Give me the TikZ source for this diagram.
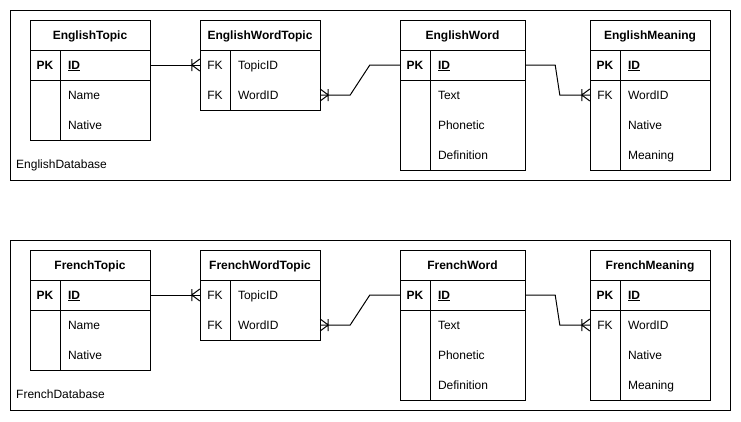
\documentclass[tikz,border=0pt]{standalone}
\usepackage{fontspec}
\setmainfont{Liberation Sans}
\usetikzlibrary{calc}
\tikzset{
  frame/.style={draw=black,line width=1pt},
  txt/.style={font=\fontsize{12}{14}\selectfont,text height=9pt,text depth=1pt},
  keycell/.style={txt,minimum width=30pt,minimum height=30pt,inner sep=0pt},
  fieldcell/.style={txt,minimum height=30pt,inner xsep=8pt,inner ysep=0pt,align=left},
  titlecell/.style={txt,minimum height=30pt,inner sep=0pt,font=\fontsize{12}{14}\selectfont\bfseries},
  conn/.style={draw=black,line width=1pt},
  dblabel/.style={txt,anchor=west,inner sep=0pt},
  onemany/.pic={\draw[line width=1pt] (-8,-6) -- (-8,6) (0,-6) -- (-8,0) -- (0,6);}
}
% \fld{name}{key}{field}{left}{y}{width}
\newcommand{\fld}[6]{%
  \node[keycell] (#1-K) at (#4+15,#5) {#2};
  \node[fieldcell,text width=#6-30-16,minimum width=#6-30] (#1) at (#4+30+#6/2-15,#5) {#3};
}
\begin{document}
\begin{tikzpicture}[x=1pt,y=-1pt]
\useasboundingbox (0,0) rectangle (741,421);
\foreach \L/\dy in {English/0,French/230}{
\begin{scope}[shift={(0,\dy)}]
  % container
  \node[frame,minimum width=720pt,minimum height=170pt,inner sep=0pt] (db-\L) at (370,95) {};
  \node[dblabel] (dbl-\L) at (16,164) {\L Database};
  % Topic table
  \node[frame,minimum width=120pt,minimum height=120pt,inner sep=0pt] (T-\L) at (90,80) {};
  \node[titlecell,minimum width=120pt] (T-\L-title) at (90,35) {\L Topic};
  \draw[frame] (30,50) -- (150,50) (30,80) -- (150,80) (60,50) -- (60,140);
  \fld{T-\L-id}{\textbf{PK}}{\textbf{\underline{ID}}}{30}{65}{120}
  \fld{T-\L-name}{}{Name}{30}{95}{120}
  \fld{T-\L-native}{}{Native}{30}{125}{120}
  % WordTopic table
  \node[frame,minimum width=120pt,minimum height=90pt,inner sep=0pt] (WT-\L) at (260,65) {};
  \node[titlecell,minimum width=120pt] (WT-\L-title) at (260,35) {\L WordTopic};
  \draw[frame] (200,50) -- (320,50) (230,50) -- (230,110);
  \fld{WT-\L-topic}{FK}{TopicID}{200}{65}{120}
  \fld{WT-\L-word}{FK}{WordID}{200}{95}{120}
  % Word table
  \node[frame,minimum width=125pt,minimum height=150pt,inner sep=0pt] (W-\L) at (462.5,95) {};
  \node[titlecell,minimum width=125pt] (W-\L-title) at (462.5,35) {\L Word};
  \draw[frame] (400,50) -- (525,50) (400,80) -- (525,80) (430,50) -- (430,170);
  \fld{W-\L-id}{\textbf{PK}}{\textbf{\underline{ID}}}{400}{65}{125}
  \fld{W-\L-text}{}{Text}{400}{95}{125}
  \fld{W-\L-phon}{}{Phonetic}{400}{125}{125}
  \fld{W-\L-def}{}{Definition}{400}{155}{125}
  % Meaning table
  \node[frame,minimum width=120pt,minimum height=150pt,inner sep=0pt] (M-\L) at (650,95) {};
  \node[titlecell,minimum width=120pt] (M-\L-title) at (650,35) {\L Meaning};
  \draw[frame] (590,50) -- (710,50) (590,80) -- (710,80) (620,50) -- (620,170);
  \fld{M-\L-id}{\textbf{PK}}{\textbf{\underline{ID}}}{590}{65}{120}
  \fld{M-\L-word}{FK}{WordID}{590}{95}{120}
  \fld{M-\L-native}{}{Native}{590}{125}{120}
  \fld{M-\L-meaning}{}{Meaning}{590}{155}{120}
  % connectors
  \draw[conn] (T-\L-id.east) -- (WT-\L-topic-K.west);
  \pic at (WT-\L-topic-K.west) {onemany};
  \draw[conn] (WT-\L-word.east) -- ++(30,0) -- ($(W-\L-id-K.west)+(-30,0)$) -- (W-\L-id-K.west);
  \pic[rotate=180] at (WT-\L-word.east) {onemany};
  \draw[conn] (W-\L-id.east) -- ++(30,0) -- ($(M-\L-word-K.west)+(-30,0)$) -- (M-\L-word-K.west);
  \pic at (M-\L-word-K.west) {onemany};
\end{scope}
}
\end{tikzpicture}
\end{document}
